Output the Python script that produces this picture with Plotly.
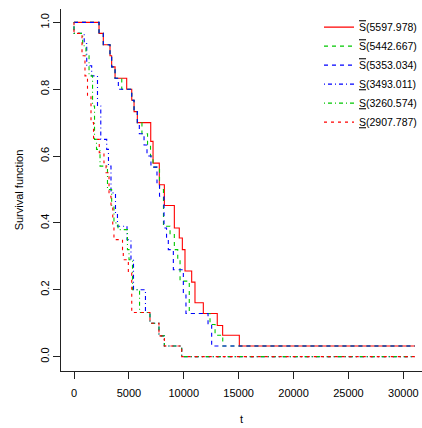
import plotly.graph_objects as go

# ---- data ----
t_end = 31060

# upper curves
t_up_red = [0, 2280, 2670, 3280, 3430, 3740, 4800, 5260, 5470, 5770, 6990, 7200, 7770, 8230, 9140, 9590, 9870, 10110, 10720, 11020, 11780, 13050, 13540, 15060]
s_up_red = [1.0, 0.967, 0.933, 0.9, 0.867, 0.833, 0.8, 0.767, 0.733, 0.7, 0.644, 0.579, 0.514, 0.452, 0.385, 0.355, 0.32, 0.256, 0.223, 0.161, 0.129, 0.093, 0.064, 0.032]

t_up_green = [0, 2280, 2670, 3280, 3430, 3740, 4350, 5260, 5470, 5770, 6190, 6700, 6970, 7200, 7790, 8150, 8750, 9140, 9450, 9660, 10500, 12390, 12850, 13550]
s_up_green = [1.0, 0.967, 0.933, 0.9, 0.867, 0.833, 0.8, 0.767, 0.733, 0.7, 0.667, 0.633, 0.6, 0.567, 0.5, 0.39, 0.365, 0.32, 0.29, 0.226, 0.129, 0.096, 0.064, 0.032]

t_up_blue = [0, 2280, 2670, 3280, 3430, 3740, 4040, 5260, 5470, 5770, 5950, 6380, 6650, 7010, 7560, 7790, 8200, 8430, 8590, 9050, 9960, 10200, 12210, 12540]
s_up_blue = [1.0, 0.967, 0.933, 0.9, 0.867, 0.833, 0.8, 0.767, 0.733, 0.7, 0.667, 0.633, 0.6, 0.567, 0.52, 0.48, 0.385, 0.355, 0.32, 0.26, 0.19, 0.129, 0.096, 0.032]

# lower curves
t_lo_blue = [0, 0, 930, 1160, 1610, 2140, 2440, 2980, 3140, 3370, 3780, 3960, 4830, 5190, 5420, 6510, 6920, 7740, 8230, 9810]
s_lo_blue = [1.0, 0.967, 0.937, 0.87, 0.84, 0.75, 0.65, 0.62, 0.57, 0.49, 0.43, 0.39, 0.35, 0.29, 0.2, 0.132, 0.1, 0.062, 0.032, 0.0]

t_lo_green = [0, 0, 790, 1090, 1370, 1690, 1870, 2050, 2370, 3050, 3430, 3640, 4010, 4870, 5010, 5330, 5970, 6920, 7740, 8230, 9810]
s_lo_green = [1.0, 0.967, 0.93, 0.9, 0.84, 0.75, 0.65, 0.62, 0.57, 0.5, 0.45, 0.4, 0.38, 0.32, 0.29, 0.2, 0.132, 0.1, 0.062, 0.032, 0.0]

t_lo_red = [0, 0, 730, 1000, 1230, 1550, 1780, 2300, 2730, 2920, 3190, 3370, 3530, 3640, 4420, 4490, 4950, 5260, 6920, 7740, 8230, 9810]
s_lo_red = [1.0, 0.967, 0.9, 0.84, 0.78, 0.7, 0.65, 0.61, 0.58, 0.55, 0.48, 0.45, 0.39, 0.35, 0.32, 0.29, 0.25, 0.132, 0.1, 0.062, 0.032, 0.0]

OVER = '<span style="text-decoration:overline">S</span>'
UNDER = '<span style="text-decoration:underline">S</span>'
series_names = [OVER + "(5597.978)", OVER + "(5442.667)", OVER + "(5353.034)",
                UNDER + "(3493.011)", UNDER + "(3260.574)", UNDER + "(2907.787)"]

x_ticks = [0, 5000, 10000, 15000, 20000, 25000, 30000]
y_ticks = [0.0, 0.2, 0.4, 0.6, 0.8, 1.0]

# ---- styles ----
RED = "#FF0000"
GREEN = "#00C800"
BLUE = "#0000FF"
styles = [
    (RED, "solid"),
    (GREEN, "4px,4px"),
    (BLUE, "4px,4px"),
    (BLUE, "1px,3px,4px,3px"),
    (GREEN, "1px,3px,4px,3px"),
    (RED, "3px,4px"),
]
data = [
    (t_up_red, s_up_red), (t_up_green, s_up_green), (t_up_blue, s_up_blue),
    (t_lo_blue, s_lo_blue), (t_lo_green, s_lo_green), (t_lo_red, s_lo_red),
]

fig = go.Figure()
for name, (tt, ss), (col, dash) in zip(series_names, data, styles):
    xs = list(tt) + [t_end]
    ys = list(ss) + [ss[-1]]
    fig.add_trace(go.Scatter(x=xs, y=ys, mode="lines", name=name,
                             line=dict(color=col, width=1.1, dash=dash, shape="hv")))

FONT = "Liberation Sans, Arial, DejaVu Sans, sans-serif"
fig.update_layout(
    width=422, height=428,
    margin=dict(l=61, r=0, t=9, b=57),
    paper_bgcolor="white", plot_bgcolor="white",
    font=dict(family=FONT, size=11, color="black"),
    showlegend=True,
    legend=dict(x=1.0, y=0.99, xanchor="right", yanchor="top",
                bgcolor="rgba(0,0,0,0)", borderwidth=0,
                font=dict(family=FONT, size=10.5, color="black"),
                tracegroupgap=0, itemwidth=30),
    xaxis=dict(range=[-1184, 31700], tickvals=x_ticks, tickformat="d",
               automargin=False,
               showgrid=False, zeroline=False, showline=True, linecolor="#222",
               linewidth=1, ticks="outside", ticklen=7, tickcolor="#222",
               ticklabelstandoff=5,
               title=dict(text="t", standoff=17,
                          font=dict(family=FONT, size=11))),
    yaxis=dict(range=[-0.043, 1.04], tickvals=y_ticks, tickformat=".1f",
               tickangle=-90, automargin=False,
               showgrid=False, zeroline=False, showline=True, linecolor="#222",
               linewidth=1, ticks="outside", ticklen=7, tickcolor="#222",
               title=dict(text="Survival function", standoff=12,
                          font=dict(family=FONT, size=11))),
)
fig.write_html("out.html")
